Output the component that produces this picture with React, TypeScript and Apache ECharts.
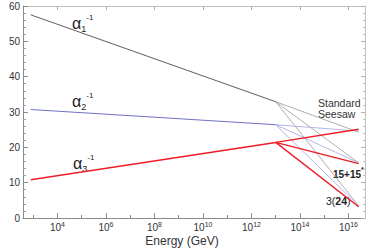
import React, { useEffect, useRef } from "react";
import * as echarts from "echarts";

// x values are log10(Energy / GeV)
const xTickExponents = [4, 6, 8, 10, 12, 14, 16];
const xMinorExponents = [3, 5, 7, 9, 11, 13, 15];
const yTicks = [0, 10, 20, 30, 40, 50, 60];

const logStart = 2.9;
const logKink = 13;
const logEnd = 16.42;

// running below the kink
const alpha1Low = [57.5, 32.9];
const alpha2Low = [30.7, 26.4];
const alpha3Low = [10.8, 21.4];
// values at the end for each scenario
const alpha1Standard = [32.9, 24.3];
const alpha2Standard = [26.4, 24.6];
const alpha3Standard = [21.4, 25.1];
const alpha1Fifteen = [32.9, 15.6];
const alpha2Fifteen = [26.4, 15.6];
const alpha3Fifteen = [21.4, 15.4];
const alpha1Three24 = [32.9, 3.4];
const alpha2Three24 = [26.4, 3.4];
const alpha3Three24 = [21.4, 3.2];

const lowX = [logStart, logKink];
const highX = [logKink, logEnd];

const pts = (xs: number[], ys: number[]) => xs.map((x, i) => [x, ys[i]]);

const FONT = "Liberation Sans, Arial, sans-serif";

export default function App() {
  const ref = useRef<HTMLDivElement>(null);
  useEffect(() => {
    if (!ref.current) return;
    const chart = echarts.init(ref.current, undefined, { renderer: "svg" });
    const line = (data: number[][], color: string, width: number, z = 2) => ({
      type: "line",
      data,
      symbol: "none",
      xAxisIndex: 0,
      yAxisIndex: 0,
      lineStyle: { color, width },
      z,
    });
    const gray = "#9a9a9a";
    const lightBlue = "#a9aee0";
    const red = "#ee1c25";
    chart.setOption({
      animation: false,
      backgroundColor: "#ffffff",
      textStyle: { fontFamily: FONT },
      grid: { left: 23, right: 9, top: 6, bottom: 33 },
      xAxis: [
        {
          type: "value",
          min: 2.58,
          max: 16.68,
          position: "bottom",
          axisLine: { show: true, lineStyle: { color: "#8a8a8a", width: 1 } },
          axisTick: {
            show: true,
            inside: true,
            length: 5,
            customValues: xTickExponents,
            lineStyle: { color: "#8a8a8a" },
          },
          axisLabel: {
            customValues: xTickExponents,
            margin: 3,
            color: "#333",
            fontSize: 10,
            fontFamily: FONT,
            formatter: (v: number) => `{b|10}{s|${v}}`,
            rich: {
              b: { fontSize: 10, color: "#333", fontFamily: FONT, lineHeight: 11, verticalAlign: "bottom" },
              s: { fontSize: 7, color: "#333", fontFamily: FONT, lineHeight: 11, verticalAlign: "top" },
            },
          },
          splitLine: { show: false },
        },
        {
          type: "value",
          min: 2.58,
          max: 16.68,
          position: "bottom",
          axisLine: { show: false },
          axisTick: {
            show: true,
            inside: true,
            length: 3,
            customValues: xMinorExponents,
            lineStyle: { color: "#8a8a8a" },
          },
          axisLabel: { show: false },
          splitLine: { show: false },
        },
        {
          type: "value",
          min: 2.58,
          max: 16.68,
          position: "top",
          axisLine: { show: true, lineStyle: { color: "#c0c0c0", width: 1 } },
          axisTick: {
            show: true,
            inside: true,
            length: 4,
            customValues: xTickExponents,
            lineStyle: { color: "#b0b0b0" },
          },
          axisLabel: { show: false },
          splitLine: { show: false },
        },
      ],
      yAxis: [
        {
          type: "value",
          min: 0,
          max: 60,
          interval: 10,
          position: "left",
          axisLine: { show: true, lineStyle: { color: "#8a8a8a", width: 1 } },
          axisTick: { show: true, inside: true, length: 5, lineStyle: { color: "#8a8a8a" } },
          minorTick: { show: true, splitNumber: 5, length: 3, lineStyle: { color: "#a0a0a0" } },
          axisLabel: {
            margin: 3,
            color: "#333",
            fontSize: 10,
            fontFamily: FONT,
            formatter: (v: number) => (yTicks.includes(v) ? String(v) : ""),
          },
          splitLine: { show: false },
        },
        {
          type: "value",
          min: 0,
          max: 60,
          interval: 10,
          position: "right",
          axisLine: { show: true, lineStyle: { color: "#c0c0c0", width: 1 } },
          axisTick: { show: true, inside: true, length: 4, lineStyle: { color: "#b0b0b0" } },
          minorTick: { show: true, splitNumber: 5, length: 2, lineStyle: { color: "#c0c0c0" } },
          axisLabel: { show: false },
          splitLine: { show: false },
        },
      ],
      series: [
        line(pts(highX, alpha1Standard), gray, 0.8),
        line(pts(highX, alpha1Fifteen), gray, 0.8),
        line(pts(highX, alpha1Three24), gray, 0.8),
        line(pts(highX, alpha2Standard), lightBlue, 0.9),
        line(pts(highX, alpha2Fifteen), lightBlue, 0.9),
        line(pts(highX, alpha2Three24), lightBlue, 0.9),
        line(pts(highX, alpha3Standard), red, 1.4, 3),
        line(pts(highX, alpha3Fifteen), red, 1.4, 3),
        line(pts(highX, alpha3Three24), red, 1.4, 3),
        line(pts(lowX, alpha1Low), "#333333", 0.8, 4),
        line(pts(lowX, alpha2Low), "#6f70c4", 1, 4),
        line(pts(lowX, alpha3Low), red, 1.5, 4),
      ],
      graphic: [
        ...[
          { n: "1", x: 72, y: 13 },
          { n: "2", x: 72, y: 91 },
          { n: "3", x: 73, y: 153 },
        ].map((d) => ({
          type: "text",
          x: d.x,
          y: d.y,
          style: {
            text: `{a|α}{d|${d.n}}{u|-1}`,
            rich: {
              a: { fontSize: 16, fontFamily: FONT, fill: "#222", lineHeight: 20, verticalAlign: "middle" },
              d: { fontSize: 9, fontFamily: FONT, fill: "#222", lineHeight: 20, verticalAlign: "bottom" },
              u: { fontSize: 8, fontFamily: FONT, fill: "#222", lineHeight: 20, verticalAlign: "top" },
            },
          },
        })),
        {
          type: "text",
          x: 318,
          y: 97,
          style: {
            text: "Standard\nSeesaw",
            fontSize: 10.5,
            fontFamily: FONT,
            fill: "#333",
            lineHeight: 11.5,
          },
        },
        {
          type: "text",
          x: 333,
          y: 165,
          style: {
            text: "{b|15+15}{s|*}",
            rich: {
              b: { fontSize: 10, fontWeight: "bold", fontFamily: FONT, fill: "#222", lineHeight: 14, verticalAlign: "bottom" },
              s: { fontSize: 8, fontWeight: "bold", fontFamily: FONT, fill: "#222", lineHeight: 14, verticalAlign: "top" },
            },
          },
        },
        {
          type: "text",
          x: 326,
          y: 195,
          style: {
            text: "{n|3(}{b|24}{n|)}",
            rich: {
              n: { fontSize: 10.5, fontFamily: FONT, fill: "#222" },
              b: { fontSize: 10.5, fontWeight: "bold", fontFamily: FONT, fill: "#222" },
            },
          },
        },
        {
          type: "text",
          x: 182,
          y: 241,
          style: {
            text: "Energy (GeV)",
            fontSize: 12,
            fontFamily: FONT,
            fill: "#333",
            align: "center",
            verticalAlign: "middle",
          },
        },
      ],
    });
    return () => chart.dispose();
  }, []);
  return (
    <div
      ref={ref}
      style={{ position: "absolute", left: 0, top: 0, width: 374, height: 251, background: "#fff" }}
    />
  );
}
